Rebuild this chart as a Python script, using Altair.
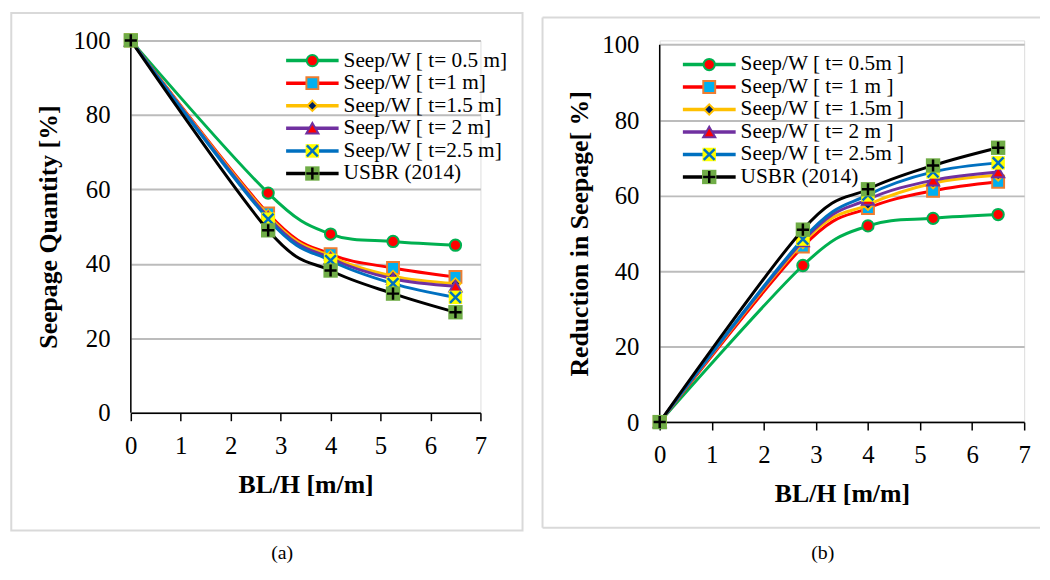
import altair as alt
import pandas as pd

# ---------------- data ----------------
bl_h = [0, 2.75, 4.0, 5.25, 6.5]
series_keys = ["t05", "t1", "t15", "t2", "t25", "usbr"]

labels_a = ["Seep/W [ t= 0.5 m]", "Seep/W [ t=1 m]", "Seep/W [ t=1.5 m]",
            "Seep/W [ t= 2 m]", "Seep/W [ t=2.5 m]", "USBR (2014)"]
labels_b = ["Seep/W [ t= 0.5m ]", "Seep/W [ t= 1 m ]", "Seep/W [ t= 1.5m ]",
            "Seep/W [ t= 2 m ]", "Seep/W [ t= 2.5m ]", "USBR (2014)"]

# (a) Seepage quantity [%]
qty_t05 = [100, 59, 48, 46, 45]
qty_t1 = [100, 53.5, 42.6, 38.9, 36.5]
qty_t15 = [100, 53, 42, 36.7, 34.7]
qty_t2 = [100, 52.5, 41.5, 36, 34]
qty_t25 = [100, 52, 40.9, 34.7, 31]
qty_usbr = [100, 49, 38.2, 32, 27]

# (b) Reduction in seepage [%]
red_t05 = [0, 41.5, 52, 54, 55]
red_t1 = [0, 46.5, 56.7, 61.3, 63.7]
red_t15 = [0, 47.5, 57.6, 63.3, 65.4]
red_t2 = [0, 48, 59, 64.1, 66.3]
red_t25 = [0, 48.5, 60.2, 66.3, 68.7]
red_usbr = [0, 51, 61.7, 68, 72.7]

y_ticks = [0, 20, 40, 60, 80, 100]
x_ticks = [0, 1, 2, 3, 4, 5, 6, 7]

qty = dict(zip(series_keys, [qty_t05, qty_t1, qty_t15, qty_t2, qty_t25, qty_usbr]))
red = dict(zip(series_keys, [red_t05, red_t1, red_t15, red_t2, red_t25, red_usbr]))

rows = []
for k in series_keys:
    for i, x in enumerate(bl_h):
        rows.append({"series": k, "bl": x, "qty": qty[k][i], "red": red[k][i]})
df = pd.DataFrame(rows)

leg_a = pd.DataFrame({"series": series_keys, "label": labels_a})
leg_b = pd.DataFrame({"series": series_keys, "label": labels_b})
one = pd.DataFrame({"f": [0]})

# ---------------- styles ----------------
FONT = "Liberation Serif"
line_colors = {"t05": "#00B050", "t1": "#FF0000", "t15": "#FFC000",
               "t2": "#7030A0", "t25": "#0070C0", "usbr": "#000000"}
marker_specs = {
    "t05": [dict(shape="circle", size=130, fill="#FF0000", stroke="#00B050", sw=2)],
    "t1": [dict(shape="square", size=144, fill="#00B0F0", stroke="#ED7D31", sw=2)],
    "t15": [dict(shape="diamond", size=110, fill="#002060", stroke="#FFC000", sw=2)],
    "t2": [dict(shape="triangle-up", size=150, fill="#FF0000", stroke="#7030A0", sw=2)],
    "t25": [dict(shape="square", size=185, fill="#FFFF00"),
            dict(shape="M-1,-1L1,1M-1,1L1,-1", size=120, stroke="#0070C0", sw=2.5)],
    "usbr": [dict(shape="square", size=210, fill="#70AD47"),
             dict(shape="M0,-1L0,1M-1,0L1,0", size=150, stroke="#000000", sw=2.5)],
}


def point_kw(spec):
    kw = dict(shape=spec["shape"], size=spec["size"], opacity=1)
    if "fill" in spec:
        kw.update(filled=True, fill=spec["fill"])
    else:
        kw.update(filled=False)
    if "stroke" in spec:
        kw.update(stroke=spec["stroke"], strokeWidth=spec["sw"])
    else:
        kw.update(strokeWidth=0)
    return kw


def panel(ycol, W, H, ymax, ytitle, ytitle_x, ytitle_y, leg, lay, frame, caption):
    xaxis = alt.Axis(values=x_ticks, format="d", labelFont=FONT, labelFontSize=25,
                     labelColor="black", labelPadding=13, labelFlush=False, labelOverlap=False,
                     tickSize=8, tickColor="black", tickWidth=1.5,
                     domainColor="black", domainWidth=1.5, grid=False,
                     title="BL/H [m/m]", titleFont=FONT, titleFontSize=26, titleFontWeight="bold",
                     titleColor="black", titleBaseline="alphabetic", titleY=80)
    yaxis = alt.Axis(values=y_ticks, labelFont=FONT, labelFontSize=25,
                     labelColor="black", labelPadding=21, ticks=False, tickSize=0,
                     domain=False, grid=True, gridColor="#bcbcbc", gridWidth=2,
                     title=ytitle, titleFont=FONT, titleFontSize=26, titleFontWeight="bold",
                     titleColor="black", titleBaseline="alphabetic", titleAngle=270,
                     titleX=ytitle_x, titleY=ytitle_y)
    xs = alt.Scale(domain=[0, 7], nice=False)
    ys = alt.Scale(domain=[0, ymax], nice=False)
    x = alt.X("bl:Q", scale=xs, axis=xaxis)
    y = alt.Y(f"{ycol}:Q", scale=ys, axis=yaxis)

    layers = []
    fr = alt.Chart(one)
    fx1, fx2, fy1, fy2, full = frame
    fstyle = dict(color="#d9d9d9", strokeWidth=2)
    if full:
        layers.append(fr.mark_rect(filled=False, stroke="#d9d9d9", strokeWidth=2).encode(
            x=alt.value(fx1), x2=alt.value(fx2), y=alt.value(fy1), y2=alt.value(fy2)))
    else:
        layers.append(fr.mark_rule(**fstyle).encode(
            x=alt.value(fx1), x2=alt.value(fx2), y=alt.value(fy1)))
        layers.append(fr.mark_rule(**fstyle).encode(
            x=alt.value(fx1), x2=alt.value(fx2), y=alt.value(fy2)))
        layers.append(fr.mark_rule(**fstyle).encode(
            x=alt.value(fx1), y=alt.value(fy1), y2=alt.value(fy2)))

    # y axis line from 0 to 100 (through the scales)
    layers.append(fr.mark_rule(color="black", strokeWidth=1.5).encode(
        x=alt.X(datum=0, type="quantitative", scale=xs, axis=xaxis),
        y=alt.Y(datum=y_ticks[0], type="quantitative", scale=ys, axis=yaxis),
        y2=alt.Y2(datum=y_ticks[-1])))

    base = alt.Chart(df)
    for k in series_keys:
        f = base.transform_filter(alt.datum.series == k)
        layers.append(f.mark_line(interpolate="cardinal", color=line_colors[k],
                                  strokeWidth=3).encode(x=x, y=y))
        for spec in marker_specs[k]:
            layers.append(f.mark_point(**point_kw(spec)).encode(x=x, y=y))

    # legend (drawn entries)
    lx1, lx2, lxm, ltx, ly0, ldy = lay
    lbase = alt.Chart(leg)
    for i, k in enumerate(series_keys):
        yy = ly0 + i * ldy
        f = lbase.transform_filter(alt.datum.series == k)
        layers.append(f.mark_rule(color=line_colors[k], strokeWidth=3.5).encode(
            x=alt.value(lx1), x2=alt.value(lx2), y=alt.value(yy)))
        for spec in marker_specs[k]:
            layers.append(f.mark_point(**point_kw(spec)).encode(
                x=alt.value(lxm), y=alt.value(yy)))
        layers.append(f.mark_text(align="left", baseline="middle", font=FONT, fontSize=21.5,
                                  color="black").encode(
            x=alt.value(ltx), y=alt.value(yy), text="label:N"))

    ctext, cx, cy = caption
    layers.append(alt.Chart(one).mark_text(text=ctext, font=FONT, fontSize=20, color="black",
                                           align="center", baseline="alphabetic").encode(
        x=alt.value(cx), y=alt.value(cy)))

    return alt.layer(*layers).properties(width=W, height=H)


# panel (a): plot 353 x 376 ; panel (b): 0 -> 100 spans 381 px, plot top aligned with (a)
Wa, Ha = 353, 376
Wb, Hb = 368, 385.4
ymax_b = 100 * Hb / 381.0

pa = panel("qty", Wa, Ha, 100, "Seepage Quantity [%]", -75, Ha / 2, leg_a,
           (156.8, 209.8, 183.3, 214.8, 20.4, 22.8),
           (-120.7, 395.5, -27.7, 494.8, True),
           ("(a)", 152.8, 524))
pb = panel("red", Wb, Hb, ymax_b, "Reduction in Seepage[ %]", -73, 194.9, leg_b,
           (23.4, 76.7, 50, 81.7, 24.4, 22.7),
           (-118.3, 384.0, -23.2, 492.1, False),
           ("(b)", 164.7, 524))

chart = alt.hconcat(pa, pb, spacing=16).properties(
    padding={"left": 1, "top": 0, "right": 0, "bottom": 0}
).configure_view(strokeWidth=0).configure(font=FONT)

chart.save("out.html", embed_options={"renderer": "svg", "actions": False})
